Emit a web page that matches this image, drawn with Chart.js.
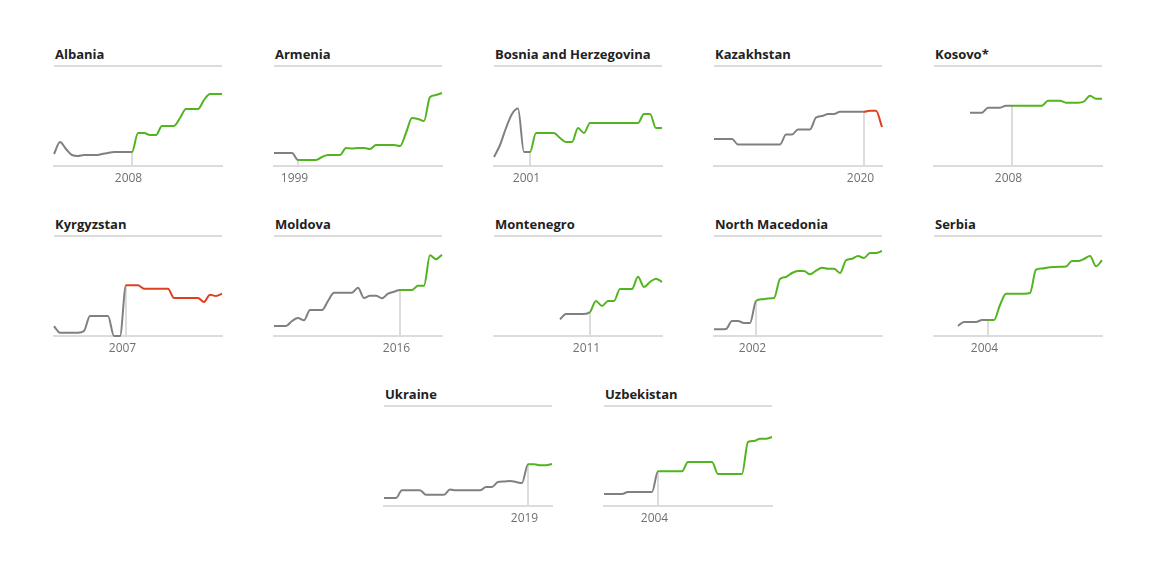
<!DOCTYPE html>
<html>
<head>
<meta charset="utf-8">
<script src="https://cdn.jsdelivr.net/npm/chart.js@4.4.1/dist/chart.umd.min.js"></script>
<style>
  body { margin: 0; background: #fff; width: 1157px; height: 565px; position: relative; overflow: hidden; }
  .title { position: absolute; font-family: "Open Sans", Inter, sans-serif; font-weight: 700; font-size: 13px; line-height: 16px; color: #222; white-space: nowrap; }
  .box { position: absolute; width: 176px; height: 128px; }
</style>
</head>
<body>
<script>
// panels in reading order
const countries = ["Albania", "Armenia", "Bosnia and Herzegovina", "Kazakhstan", "Kosovo*",
  "Kyrgyzstan", "Moldova", "Montenegro", "North Macedonia", "Serbia", "Ukraine", "Uzbekistan"];
const markerYears = [2008, 1999, 2001, 2020, 2008, 2007, 2016, 2011, 2002, 2004, 2019, 2004];
const directions = ["up", "up", "up", "down", "up", "down", "up", "up", "up", "up", "up", "up"];
const firstYears = [1995, 1995, 1995, 1995, 2001, 1995, 1995, 2006, 1995, 1999, 1995, 1995];

// yearly values, from firstYear to 2023
const albania = [12,24,17,11,10,11,11,11,12,13,14,14,14,14,33,33,31,31,40,40,40,48,57,57,57,66,72,72,72];
const armenia = [13,13,13,13,6,6,6,6,9,11,11,11,18,17.5,18,18,17,21,21,21,21,20,33,48,47,45,69,71,73];
const bosnia = [9,21,38,52,57.5,14,14,33,33,33,33,28,24,24,38,33,43,43,43,43,43,43,43,43,43,52,52,38,38];
const kazakhstan = [27,27,27,27,21.5,21.5,21.5,21.5,21.5,21.5,21.5,21.5,31.5,31.5,36.5,36.5,36.5,48.5,50,52,52,54.3,54.3,54.3,54.3,54.3,55.3,55.3,39];
const kosovo = [53.3,53.3,53.3,58.3,58.3,58.3,60.3,60.3,60.3,60.3,60.3,60.3,60.3,65.3,65.3,65.3,63.3,63.3,63.3,64.5,70.3,67.3,67.3];
const kyrgyzstan = [9.7,3.3,3.3,3.3,3.3,5,20,20,20,20,0,0,50.7,50.7,50.7,47.3,47.3,47.3,47.3,47.3,38,38,38,38,38,34,41.3,40,42.3];
const moldova = [10,10,10,15,18,15.7,26,26,26,35,43.3,43.3,43.3,43.3,48.3,38,40.3,40.3,37.7,42.3,44.3,46,46,46,50.3,50.3,80.7,76.7,81.3];
const montenegro = [16.7,22,22,22,22,24,35,30,35,35,47,47,47,59.3,49,54,57.3,54];
const northMacedonia = [6.7,6.7,7,15,15,13,13,35,36.7,37.5,38,57,59,63,65,65,61.7,65.3,68.3,67.3,67.3,63,75.7,77.3,80,78,83,83,85];
const serbia = [10,14,14,14,16,16,16,31,42.3,42.3,42.3,42.3,43,66.3,67.5,68.5,69,69.3,69.5,75,75,77,80,69.7,75.7];
const ukraine = [8,8,8,15.7,15.7,15.7,15.7,11.3,11.3,11.3,11.3,16.5,15.7,15.7,15.7,15.7,15.7,19,19,24,24.5,25,24,23,41.7,41.7,40.7,40.7,42];
const uzbekistan = [12,12,12,12,14,14,14,14,14,34.7,34.7,34.7,34.7,34.7,44,44,44,44,44,32,32,32,32,32,64,65,67.3,67.3,69];
const series = [albania, armenia, bosnia, kazakhstan, kosovo, kyrgyzstan, moldova, montenegro,
  northMacedonia, serbia, ukraine, uzbekistan];

const GRAY = "#808080";
const COLORS = { up: "#52b41f", down: "#e0401f" };
const RULE = "#dcdcdc";

Chart.defaults.font.family = "'Open Sans', Inter, sans-serif";

const ruleLine = {
  id: "ruleLine",
  beforeDatasetsDraw(chart) {
    const { ctx, chartArea } = chart;
    ctx.save();
    ctx.strokeStyle = RULE;
    ctx.lineWidth = 2;
    ctx.beginPath();
    ctx.moveTo(chartArea.left, chartArea.top);
    ctx.lineTo(chartArea.right, chartArea.top);
    ctx.stroke();
    ctx.restore();
  }
};

function panelPos(i) {
  if (i < 10) return { x: 54 + 220 * (i % 5), y: 66 + 170 * Math.floor(i / 5) };
  return { x: 384 + 220 * (i - 10), y: 406 };
}

countries.forEach((name, i) => {
  const pos = panelPos(i);
  const marker = markerYears[i];
  const color = COLORS[directions[i]];
  const pts = series[i].map((v, k) => ({ x: firstYears[i] + k, y: v }));
  const markerVal = series[i][marker - firstYears[i]];

  const t = document.createElement("div");
  t.className = "title";
  t.textContent = name;
  t.style.left = (pos.x + 1) + "px";
  t.style.top = (pos.y - 20) + "px";
  document.body.appendChild(t);

  const box = document.createElement("div");
  box.className = "box";
  box.style.left = (pos.x - 4) + "px";
  box.style.top = (pos.y - 6) + "px";
  const cv = document.createElement("canvas");
  cv.width = 176;
  cv.height = 128;
  box.appendChild(cv);
  document.body.appendChild(box);

  new Chart(cv, {
    type: "line",
    data: {
      datasets: [
        {
          data: pts,
          borderWidth: 2,
          borderColor: GRAY,
          segment: { borderColor: c => c.p0.parsed.x >= marker ? color : GRAY },
          cubicInterpolationMode: "monotone",
          pointRadius: 0,
          clip: false,
          order: 1
        },
        {
          data: [{ x: marker, y: 0 }, { x: marker, y: markerVal }],
          borderWidth: 2,
          borderColor: RULE,
          pointRadius: 0,
          tension: 0,
          order: 2
        }
      ]
    },
    options: {
      responsive: false,
      animation: false,
      events: [],
      layout: { padding: { top: 6, left: 4, right: 4, bottom: 0 } },
      plugins: { legend: { display: false }, tooltip: { enabled: false }, title: { display: false } },
      scales: {
        x: {
          type: "linear",
          min: 1995,
          max: 2023,
          grid: { display: false, drawTicks: false },
          border: { display: true, color: RULE, width: 2 },
          afterBuildTicks: axis => { axis.ticks = [{ value: marker }]; },
          afterFit: axis => { axis.height = 22; },
          ticks: {
            autoSkip: false,
            maxRotation: 0,
            padding: 5,
            labelOffset: -3.5,
            color: "#707070",
            font: { size: 12 },
            callback: v => String(v)
          }
        },
        y: { display: false, min: 0, max: 100 }
      }
    },
    plugins: [ruleLine]
  });
});
</script>
</body>
</html>
